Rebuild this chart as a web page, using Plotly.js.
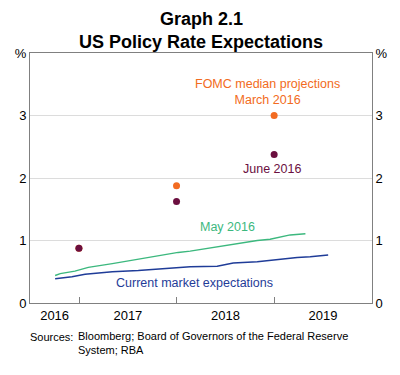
<!DOCTYPE html>
<html><head><meta charset="utf-8">
<script src="https://cdn.plot.ly/plotly-3.0.1.min.js"></script>
<style>html,body{margin:0;padding:0;background:#fff}#c{width:400px;height:375px}</style>
</head><body><div id="c"></div>
<script>
// Data (percent)
const fomcDates = ['2016-12-31', '2017-12-31', '2018-12-31'];
const march2016 = [0.875, 1.875, 3.0];
const june2016 = [0.875, 1.625, 2.375];
const may2016Dates = ['2016-10-03','2016-10-22','2016-12-16','2017-02-04','2017-05-05','2017-08-10','2017-10-24','2018-01-06','2018-02-20','2018-05-05','2018-06-24','2018-09-07','2018-10-29','2018-12-16','2019-03-01','2019-04-27'];
const may2016 = [0.44,0.47,0.51,0.57,0.63,0.70,0.75,0.81,0.83,0.88,0.91,0.96,1.00,1.02,1.09,1.11];
const currentDates = ['2016-10-03','2016-12-05','2017-01-23','2017-05-05','2017-08-10','2017-11-19','2018-02-20','2018-06-01','2018-07-31','2018-10-29','2019-01-12','2019-03-27','2019-05-15','2019-07-21'];
const current = [0.39,0.42,0.46,0.50,0.52,0.55,0.58,0.59,0.64,0.66,0.70,0.73,0.74,0.77];
const yearLabelPos = ['2016-10-01','2017-07-02','2018-07-02','2019-07-02'];
const yearLabels = ['2016','2017','2018','2019'];
const yearEnds = ['2017-01-01','2018-01-01','2019-01-01'];
const yTickVals = [0,1,2,3,4];
const yTickText = ['0','1','2','3','%'];

const FONT = 'Liberation Sans, Arial, sans-serif';
const traces = [
  {x: currentDates, y: current, mode:'lines', line:{color:'#1f3c98', width:1.5}, hoverinfo:'skip'},
  {x: may2016Dates, y: may2016, mode:'lines', line:{color:'#3cb87e', width:1.5}, hoverinfo:'skip'},
  {x: fomcDates, y: march2016, mode:'markers', marker:{color:'#f26b21', size:7}, hoverinfo:'skip'},
  {x: fomcDates, y: june2016, mode:'markers', marker:{color:'#6b0f3f', size:7}, hoverinfo:'skip'}
];
function ann(text, x, y, color, size, bold, xanchor) {
  return {text: bold ? '<b>'+text+'</b>' : text, xref:'paper', yref:'paper', x:x, y:y,
    xanchor: xanchor || 'center', yanchor:'middle', showarrow:false, align: xanchor==='left' ? 'left' : 'center',
    font:{family:FONT, size:size, color:color}};
}
const layout = {
  width:400, height:375, showlegend:false,
  paper_bgcolor:'#fff', plot_bgcolor:'#fff',
  margin:{l:30, r:28, t:53, b:72},
  font:{family:FONT, size:13, color:'#000'},
  xaxis:{type:'date', range:['2016-07-01','2020-01-01'], tickmode:'array', tickvals:yearLabelPos, ticktext:yearLabels,
    ticks:'', showgrid:false, zeroline:false, showline:true, linecolor:'#808080', linewidth:1, mirror:true,
    tickfont:{size:13, family:FONT}, fixedrange:true,
    minor:{tickmode:'array', tickvals:yearEnds, ticks:'inside', ticklen:6, tickcolor:'#808080', showgrid:false}},
  yaxis:{range:[0,4], tickmode:'array', tickvals:yTickVals, ticktext:yTickText, ticks:'', showgrid:true,
    gridcolor:'#dcdcdc', gridwidth:1, zeroline:false, showline:true, linecolor:'#808080', linewidth:1,
    tickfont:{size:13, family:FONT}, fixedrange:true},
  yaxis2:{range:[0,4], overlaying:'y', side:'right', tickmode:'array', tickvals:yTickVals, ticktext:yTickText, ticks:'',
    showgrid:false, zeroline:false, showline:true, linecolor:'#808080', linewidth:1, tickfont:{size:13, family:FONT}, fixedrange:true},
  annotations:[
    ann('Graph 2.1', 0.5, (303-19)/250, '#000', 18, true),
    ann('US Policy Rate Expectations', 0.5, (303-42)/250, '#000', 18, true),
    ann('FOMC median projections<br>March 2016', (267-30)/342, (303-92)/250, '#f26b21', 12.5),
    ann('June 2016', (272-30)/342, (303-169)/250, '#6b0f3f', 12.5),
    ann('May 2016', (227-30)/342, (303-227)/250, '#3cb87e', 12.5),
    ann('Current market expectations', (194-30)/342, (303-283)/250, '#1f3c98', 12.5),
    ann('Sources:', (28-30)/342, (303-337)/250, '#000', 11, false, 'left'),
    ann('Bloomberg; Board of Governors of the Federal Reserve<br>System; RBA', (76-30)/342, (303-342.5)/250, '#000', 11, false, 'left')
  ]
};
// empty trace so the right-hand axis is drawn
traces.push({x:[fomcDates[0]], y:[null], yaxis:'y2', mode:'markers', hoverinfo:'skip'});
Plotly.newPlot('c', traces, layout, {staticPlot:true, displayModeBar:false});
</script></body></html>
